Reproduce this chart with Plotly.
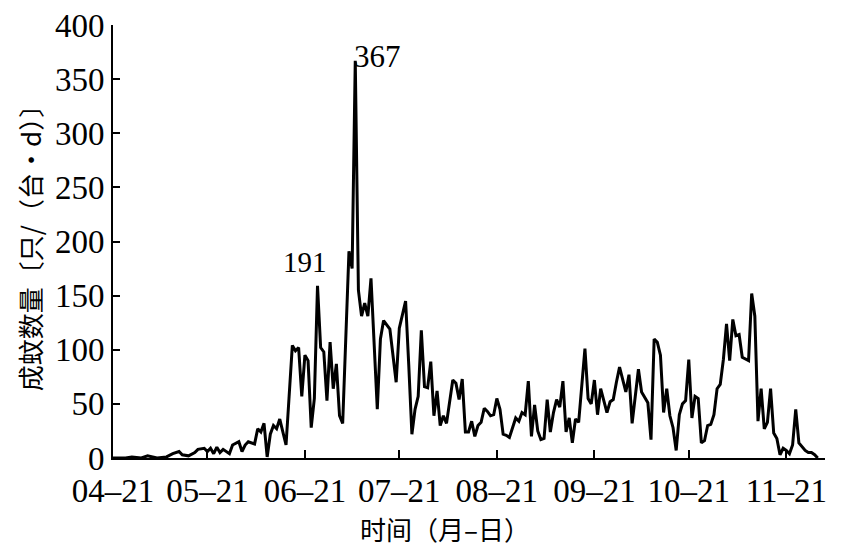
import pandas as pd
import plotly.graph_objects as go

# ==========================================
# DATA  (days after 04-21, daily adult mosquito count)
# ==========================================

start = "2017-04-21"

day = [0, 4, 6, 9, 11, 14, 17, 19, 21, 22, 24, 26, 27, 29, 30, 31, 32, 33, 34, 35,
       37, 38, 40, 41, 42, 43, 45, 46, 47, 48, 49, 50, 51, 52, 53, 54, 55, 57, 58, 59,
       60, 61, 62, 63, 64, 65, 66, 67, 68, 69, 70, 71, 72, 73, 74, 75, 76, 77, 78, 79,
       80, 81, 82, 84, 85, 86, 88, 90, 91, 93, 94, 95, 96, 97, 98, 99, 100, 101, 102, 103,
       104, 105, 106, 108, 109, 110, 111, 112, 113, 114, 115, 116, 117, 118, 119, 120, 121, 122, 123, 124,
       125, 126, 128, 129, 130, 131, 132, 133, 134, 135, 136, 137, 138, 139, 140, 141, 142, 143, 144, 145,
       146, 147, 148, 150, 151, 152, 153, 154, 155, 157, 158, 159, 160, 161, 163, 164, 165, 167, 168, 170,
       171, 172, 173, 174, 175, 176, 177, 178, 179, 180, 181, 182, 183, 184, 185, 186, 187, 188, 189, 190,
       191, 192, 193, 194, 195, 196, 197, 198, 199, 200, 202, 203, 204, 205, 206, 207, 208, 209, 210, 211,
       212, 213, 214, 215, 216, 217, 218, 220, 221, 222, 223, 224]

count = [0, 0, 1, 0, 2, 0, 1, 4, 6, 3, 2, 5, 8, 9, 6, 9, 4, 10, 5, 8,
         4, 12, 15, 6, 12, 15, 13, 27, 24, 32, 1, 22, 30, 27, 36, 25, 12, 104, 99, 102,
         57, 95, 90, 28, 55, 159, 102, 98, 53, 107, 64, 87, 39, 32, 120, 191, 175, 367, 155, 131,
         143, 131, 166, 45, 110, 127, 119, 70, 120, 145, 86, 22, 45, 57, 118, 66, 65, 89, 39, 62,
         30, 39, 32, 72, 69, 54, 73, 24, 24, 34, 20, 30, 33, 46, 43, 39, 40, 55, 45, 22,
         21, 19, 37, 34, 42, 40, 71, 20, 49, 25, 17, 18, 54, 24, 42, 54, 47, 71, 24, 37,
         14, 36, 33, 101, 55, 50, 72, 40, 64, 42, 52, 54, 70, 84, 61, 77, 32, 82, 61, 51,
         17, 110, 107, 95, 42, 64, 39, 28, 7, 40, 50, 53, 91, 37, 57, 55, 14, 16, 30, 31,
         40, 64, 68, 91, 124, 90, 128, 113, 114, 93, 90, 152, 131, 34, 64, 27, 33, 64, 23, 18,
         3, 9, 7, 4, 12, 45, 14, 7, 5, 5, 3, 0]

tick_days = [0, 30, 61, 91, 122, 153, 183, 214]
tick_labels = ["04–21", "05–21", "06–21", "07–21", "08–21", "09–21", "10–21", "11–21"]

peaks = [191, 367]

dates = pd.Timestamp(start) + pd.to_timedelta(day, unit="D")
tick_dates = pd.Timestamp(start) + pd.to_timedelta(tick_days, unit="D")

serif = "Liberation Serif"
cjk = "Noto Sans CJK SC"

fig = go.Figure()

fig.add_trace(go.Scatter(
    x=dates,
    y=count,
    mode="lines",
    line=dict(color="black", width=3),
    showlegend=False
))

# ==========================================
# PEAK LABELS
# ==========================================

for p in peaks:
    i = count.index(p)
    if p == max(peaks):
        fig.add_annotation(x=dates[i], y=p, text=str(p), showarrow=False,
                           xanchor="left", yanchor="middle", xshift=-3, yshift=4,
                           font=dict(family=serif, size=31, color="black"))
    else:
        fig.add_annotation(x=dates[i], y=p, text=str(p), showarrow=False,
                           xanchor="right", yanchor="middle", xshift=-20, yshift=-11,
                           font=dict(family=serif, size=29, color="black"))

# x axis title (sits a bit left of centre in the original)
fig.add_annotation(x=0.466, y=0, xref="paper", yref="paper", text="时间（月–日）",
                   showarrow=False, xanchor="center", yanchor="middle", yshift=-70,
                   font=dict(family=cjk, size=26, color="black"))

# ==========================================
# LAYOUT
# ==========================================

fig.update_layout(
    width=841,
    height=546,
    plot_bgcolor="white",
    paper_bgcolor="white",
    margin=dict(l=105, r=24, t=17, b=96),
    xaxis=dict(
        range=[pd.Timestamp(start), pd.Timestamp(start) + pd.Timedelta(days=226.3)],
        tickvals=tick_dates,
        ticktext=tick_labels,
        ticks="inside",
        ticklen=8,
        tickwidth=2,
        tickcolor="black",
        showline=True,
        linecolor="black",
        linewidth=2,
        showgrid=False,
        zeroline=False,
        automargin=False,
        ticklabeloverflow="allow",
        ticklabelstandoff=2,
        tickfont=dict(family=serif, size=33, color="black"),
    ),
    yaxis=dict(
        range=[0, 400],
        tickvals=[0, 50, 100, 150, 200, 250, 300, 350, 400],
        ticks="inside",
        ticklen=7,
        tickwidth=2,
        tickcolor="black",
        showline=True,
        linecolor="black",
        linewidth=2,
        showgrid=False,
        zeroline=False,
        automargin=False,
        ticklabeloverflow="allow",
        tickfont=dict(family=serif, size=33, color="black"),
        title=dict(text="成蚊数量〔只/（台·d）〕", font=dict(family=cjk, size=26, color="black"),
                   standoff=6),
    ),
)

fig.write_html("out.html")
